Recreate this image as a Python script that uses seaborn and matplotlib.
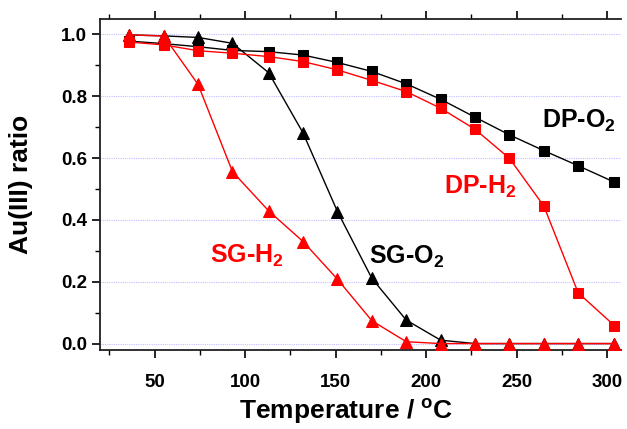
import matplotlib
matplotlib.use("Agg")
import matplotlib.pyplot as plt
import numpy as np
import pandas as pd
import seaborn as sns
from matplotlib.ticker import MultipleLocator

temps = [36, 55, 74, 93, 113, 132, 151, 170, 189, 208, 227, 246, 265, 284, 304]

dp_o2 = [0.978, 0.970, 0.960, 0.948, 0.944, 0.933, 0.909, 0.880, 0.840, 0.790, 0.732, 0.675, 0.624, 0.575, 0.522]
dp_h2 = [0.975, 0.966, 0.947, 0.939, 0.928, 0.912, 0.885, 0.851, 0.815, 0.761, 0.693, 0.599, 0.445, 0.164, 0.058]
sg_o2 = [0.998, 0.995, 0.990, 0.971, 0.876, 0.681, 0.427, 0.211, 0.076, 0.011, 0.0, 0.0, 0.0, 0.0, 0.0]
sg_h2 = [0.998, 0.995, 0.838, 0.556, 0.429, 0.330, 0.208, 0.074, 0.006, 0.0, 0.0, 0.0, 0.0, 0.0, 0.0]

series_names = ["DP-O2", "SG-O2", "DP-H2", "SG-H2"]
series_colors = ["black", "black", "red", "red"]
series_markers = ["s", "^", "s", "^"]

df = pd.DataFrame({"T": temps, "DP-O2": dp_o2, "DP-H2": dp_h2,
                   "SG-O2": sg_o2, "SG-H2": sg_h2})

sns.set_style("white")
plt.rcParams["font.family"] = ["Liberation Sans", "DejaVu Sans"]
plt.rcParams["font.weight"] = "bold"
plt.rcParams["mathtext.fontset"] = "custom"
plt.rcParams["mathtext.rm"] = "Liberation Sans:bold"
plt.rcParams["mathtext.bf"] = "Liberation Sans:bold"
plt.rcParams["mathtext.default"] = "rm"
for key in ["text.color", "axes.labelcolor", "xtick.color", "ytick.color"]:
    plt.rcParams[key] = "black"

fig = plt.figure(figsize=(6.27, 4.29), dpi=100)
ax = fig.add_axes([0.160, 0.184, 0.830, 0.772])

for name, c, m in zip(series_names, series_colors, series_markers):
    ms = 7.8 if m == "s" else 8.8
    sns.lineplot(data=df, x="T", y=name, color=c, marker=m, markersize=ms,
                 markeredgecolor=c, linewidth=1.0, ax=ax, zorder=3)

ax.set_xlim(20, 307.5)
ax.set_ylim(-0.021, 1.05)
ax.xaxis.set_major_locator(MultipleLocator(50))
ax.xaxis.set_minor_locator(MultipleLocator(25))
ax.yaxis.set_major_locator(MultipleLocator(0.2))
ax.yaxis.set_minor_locator(MultipleLocator(0.1))
ax.yaxis.set_major_formatter(matplotlib.ticker.FormatStrFormatter("%.1f"))

ax.grid(axis="y", which="major", color="#c0c0ff", linestyle=(0, (1, 1)), linewidth=0.8, zorder=0)

ax.spines["right"].set_visible(False)
for s in ["left", "bottom", "top"]:
    ax.spines[s].set_linewidth(1.3)
    ax.spines[s].set_color("#202020")

ax.tick_params(axis="both", which="major", direction="out", length=6, width=1.2,
               labelsize=13.5, top=True, bottom=True, left=True, right=False,
               colors="black")
ax.tick_params(axis="x", which="major", pad=11)
ax.tick_params(axis="both", which="minor", direction="out", length=3.5, width=1.0,
               top=True, bottom=True, left=True, right=False)
for lbl in ax.get_xticklabels() + ax.get_yticklabels():
    lbl.set_fontweight("bold")

ax.set_xlabel("Temperature / $^\\mathregular{o}$C", fontsize=19, fontweight="bold")
ax.xaxis.set_label_coords(0.473, -0.143)
ax.set_ylabel("Au(III) ratio", fontsize=19, fontweight="bold")
ax.yaxis.set_label_coords(-0.129, 0.5)

ax.text(0.919, 0.692, "DP-O$_2$", transform=ax.transAxes, fontsize=18,
        fontweight="bold", color="black", ha="center", va="center")
ax.text(0.729, 0.492, "DP-H$_2$", transform=ax.transAxes, fontsize=18,
        fontweight="bold", color="red", ha="center", va="center")
ax.text(0.282, 0.285, "SG-H$_2$", transform=ax.transAxes, fontsize=18,
        fontweight="bold", color="red", ha="center", va="center")
ax.text(0.588, 0.282, "SG-O$_2$", transform=ax.transAxes, fontsize=18,
        fontweight="bold", color="black", ha="center", va="center")

fig.savefig("out.png", dpi=100)
